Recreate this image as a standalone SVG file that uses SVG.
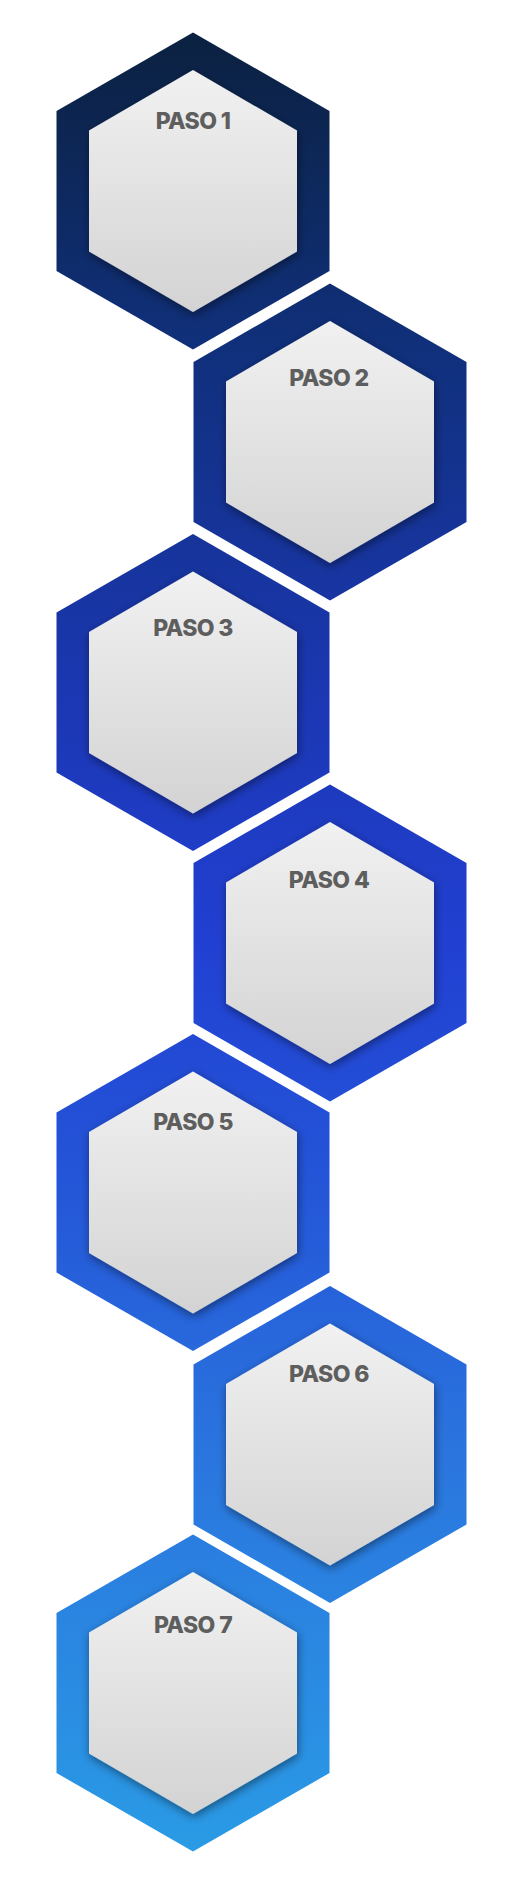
<svg xmlns="http://www.w3.org/2000/svg" width="528" height="1881" viewBox="0 0 528 1881">
  <defs>
    <linearGradient id="ringGrad" gradientUnits="userSpaceOnUse" x1="0" y1="32" x2="0" y2="1852">
      <stop offset="0" stop-color="#0b2140"/>
      <stop offset="0.175" stop-color="#10307c"/>
      <stop offset="0.363" stop-color="#1b37b2"/>
      <stop offset="0.5" stop-color="#2140d2"/>
      <stop offset="0.637" stop-color="#2456d8"/>
      <stop offset="0.776" stop-color="#2a74de"/>
      <stop offset="1" stop-color="#2a9be5"/>
    </linearGradient>
    <linearGradient id="innerGrad" x1="0" y1="0" x2="0" y2="1">
      <stop offset="0" stop-color="#f1f1f1"/>
      <stop offset="1" stop-color="#d3d3d3"/>
    </linearGradient>
    <filter id="shadow" x="-20%" y="-20%" width="140%" height="140%">
      <feDropShadow dx="1" dy="3" stdDeviation="5" flood-color="#000" flood-opacity="0.45"/>
    </filter>
  </defs>
  <style>
    .outer { fill: url(#ringGrad); }
    .inner { fill: url(#innerGrad); filter: url(#shadow); }
    .label { font-family: Inter, "Open Sans", "Liberation Sans", sans-serif; font-weight: 800; font-size: 23px; fill: #5e5e5e; text-anchor: middle; letter-spacing: -0.6px; }
  </style>
  <rect width="528" height="1881" fill="#ffffff"/>
  <g id="connectors"></g>
  <g id="paso1">
    <polygon class="outer" points="193,32.5 329.5,111 329.5,271 193,349.5 56.5,271 56.5,111"/>
    <polygon class="inner" points="193,70 297,130.5 297,251.5 193,312 89,251.5 89,130.5"/>
    <text class="label" x="193" y="129.3">PASO 1</text>
  </g>
  <g id="paso2">
    <polygon class="outer" points="330,283.5 466.5,362 466.5,522 330,600.5 193.5,522 193.5,362"/>
    <polygon class="inner" points="330,321 434,381.5 434,502.5 330,563 226,502.5 226,381.5"/>
    <text class="label" x="329" y="386">PASO 2</text>
  </g>
  <g id="paso3">
    <polygon class="outer" points="193,534 329.5,612.5 329.5,772.5 193,851 56.5,772.5 56.5,612.5"/>
    <polygon class="inner" points="193,571.5 297,632 297,753 193,813.5 89,753 89,632"/>
    <text class="label" x="193" y="635.7">PASO 3</text>
  </g>
  <g id="paso4">
    <polygon class="outer" points="330,784.5 466.5,863 466.5,1023 330,1101.5 193.5,1023 193.5,863"/>
    <polygon class="inner" points="330,822 434,882.5 434,1003.5 330,1064 226,1003.5 226,882.5"/>
    <text class="label" x="329" y="888.3">PASO 4</text>
  </g>
  <g id="paso5">
    <polygon class="outer" points="193,1034 329.5,1112.5 329.5,1272.5 193,1351 56.5,1272.5 56.5,1112.5"/>
    <polygon class="inner" points="193,1071.5 297,1132 297,1253 193,1313.5 89,1253 89,1132"/>
    <text class="label" x="193" y="1130">PASO 5</text>
  </g>
  <g id="paso6">
    <polygon class="outer" points="330,1286 466.5,1364.5 466.5,1524.5 330,1603 193.5,1524.5 193.5,1364.5"/>
    <polygon class="inner" points="330,1323.5 434,1384 434,1505 330,1565.5 226,1505 226,1384"/>
    <text class="label" x="329" y="1382.3">PASO 6</text>
  </g>
  <g id="paso7">
    <polygon class="outer" points="193,1534.5 329.5,1613 329.5,1773 193,1851.5 56.5,1773 56.5,1613"/>
    <polygon class="inner" points="193,1572 297,1632.5 297,1753.5 193,1814 89,1753.5 89,1632.5"/>
    <text class="label" x="193" y="1632.7">PASO 7</text>
  </g>
</svg>
